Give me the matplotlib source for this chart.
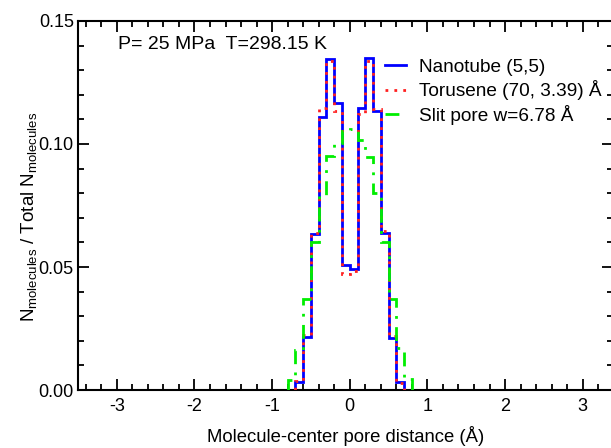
import numpy as np
import matplotlib
matplotlib.use("Agg")
import matplotlib.pyplot as plt
from matplotlib.ticker import MultipleLocator, FormatStrFormatter

plt.rcParams['font.family'] = ['Liberation Sans', 'DejaVu Sans']
plt.rcParams['mathtext.fontset'] = 'custom'
plt.rcParams['mathtext.rm'] = 'Liberation Sans'
plt.rcParams['mathtext.it'] = 'Liberation Sans:italic'
plt.rcParams['axes.unicode_minus'] = False

# histogram data (bin width 0.1 A)
edges_tube = np.round(np.arange(-0.7, 0.71, 0.1), 2)
nanotube = [0.0034, 0.0216, 0.0635, 0.1108, 0.1347, 0.1165, 0.0507,
            0.0493, 0.1145, 0.1351, 0.1135, 0.0638, 0.0212, 0.0034]
torusene = [0.0038, 0.0222, 0.0640, 0.1147, 0.1336, 0.1135, 0.0472,
            0.0485, 0.1120, 0.1336, 0.1143, 0.0646, 0.0220, 0.0030]

edges_slit = np.round(np.arange(-0.8, 0.81, 0.1), 2)
slit = [0.0042, 0.0162, 0.0370, 0.0601, 0.0790, 0.0953, 0.1005, 0.1054,
        0.1062, 0.1015, 0.0946, 0.0800, 0.0601, 0.0370, 0.0170, 0.0043]

fig = plt.figure(figsize=(6.11, 4.48), dpi=100)
ax = fig.add_axes([78 / 611, 58 / 448, (613 - 78) / 611, (390 - 21) / 448])

ax.stairs(nanotube, edges_tube, baseline=0, color='#0000ff', lw=2.0,
          label='Nanotube (5,5)', zorder=3)
ax.stairs(torusene, edges_tube, baseline=0, color='#ff2020', lw=2.0,
          linestyle=(0, (1, 2.2)), label='Torusene (70, 3.39) Å', zorder=4)
ax.stairs(slit, edges_slit, baseline=0, color='#00ee00', lw=2.0,
          linestyle=(0, (5, 3, 1, 3)), label='Slit pore w=6.78 Å', zorder=5)

ax.set_xlim(-3.5, 3.39)
ax.set_ylim(0, 0.15)
ax.xaxis.set_major_locator(MultipleLocator(1))
ax.xaxis.set_minor_locator(MultipleLocator(0.2))
ax.yaxis.set_major_locator(MultipleLocator(0.05))
ax.yaxis.set_minor_locator(MultipleLocator(0.01))
ax.yaxis.set_major_formatter(FormatStrFormatter('%.2f'))
ax.tick_params(which='both', direction='in', top=True, right=True,
               labelsize=13, width=1.3)
ax.tick_params(which='major', length=8)
ax.tick_params(which='minor', length=4)
ax.tick_params(axis='x', which='major', pad=6)
ax.tick_params(axis='y', which='major', pad=3)
for s in ax.spines.values():
    s.set_linewidth(1.5)

ax.set_xlabel('Molecule-center pore distance (Å)', fontsize=13.3, labelpad=8)
ax.set_ylabel(r'N$_{\mathrm{molecules}}$ / Total N$_{\mathrm{molecules}}$',
              fontsize=13.5)
ax.yaxis.set_label_coords(-0.073, 0.47)

ax.text(-2.98, 0.1405, 'P= 25 MPa  T=298.15 K', fontsize=14, va='center')

ax.legend(loc='upper right', bbox_to_anchor=(1.0, 0.93), frameon=False,
          fontsize=13.7, handlelength=1.1, handletextpad=0.7, labelspacing=0.25,
          borderaxespad=0.2)

fig.savefig('out.png', dpi=100)
